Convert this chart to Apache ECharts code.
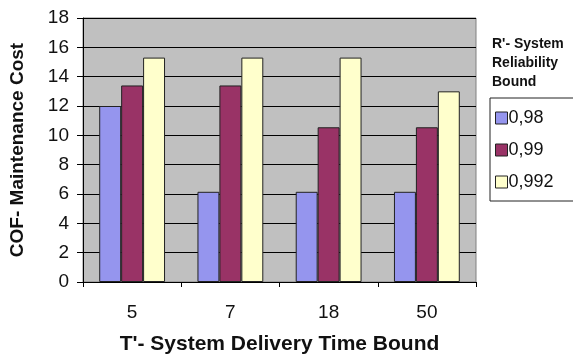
<!DOCTYPE html>
<html>
<head>
<meta charset="utf-8">
<script src="https://cdn.jsdelivr.net/npm/echarts@6/dist/echarts.min.js"></script>
<style>
  html, body { margin: 0; padding: 0; background: #fff; }
  #chart { width: 573px; height: 355px; }
</style>
</head>
<body>
<div id="chart"></div>
<script>
const categories = ['5', '7', '18', '50']
const seriesNames = ['0,98', '0,99', '0,992']
const r098 = [12.0, 6.15, 6.15, 6.15]
const r099 = [13.4, 13.4, 10.55, 10.55]
const r0992 = [15.3, 15.3, 15.3, 13.0]
const colors = ['#9595EE', '#993366', '#FFFFCC']

const chart = echarts.init(document.getElementById('chart'))
const font = 'Liberation Sans, Arial, sans-serif'

const option = {
  animation: false,
  title: {
    text: "R'- System\nReliability\nBound",
    left: 492,
    top: 35,
    padding: 0,
    textStyle: {
      fontFamily: font,
      fontSize: 14,
      fontWeight: 'bold',
      lineHeight: 19,
      color: '#111'
    }
  },
  legend: {
    orient: 'vertical',
    left: 490,
    top: 98,
    width: 120,
    padding: [11, 40, 10, 5],
    itemGap: 14,
    itemWidth: 12,
    itemHeight: 12,
    icon: 'rect',
    borderColor: '#222',
    borderWidth: 1,
    itemStyle: { borderColor: '#222', borderWidth: 1 },
    textStyle: {
      fontFamily: font,
      fontSize: 18,
      color: '#111',
      padding: [0, 0, 0, -4]
    },
    data: seriesNames
  },
  grid: {
    left: 83,
    right: 97,
    top: 18,
    bottom: 73,
    containLabel: false,
    outerBoundsMode: 'none',
    show: true,
    backgroundColor: '#C0C0C0',
    borderColor: '#808080',
    borderWidth: 1
  },
  xAxis: {
    type: 'category',
    data: categories,
    name: "T'- System Delivery Time Bound",
    nameLocation: 'middle',
    nameGap: 52,
    nameTextStyle: {
      fontFamily: font,
      fontSize: 21,
      fontWeight: 'bold',
      color: '#111'
    },
    axisLine: { lineStyle: { color: '#000', width: 1 } },
    axisTick: { show: true, length: 5, lineStyle: { color: '#000' } },
    axisLabel: {
      fontFamily: font,
      fontSize: 19,
      color: '#111',
      margin: 21
    }
  },
  yAxis: {
    type: 'value',
    min: 0,
    max: 18,
    interval: 2,
    name: 'COF- Maintenance Cost',
    nameLocation: 'middle',
    nameGap: 56,
    nameTextStyle: {
      fontFamily: font,
      fontSize: 19,
      fontWeight: 'bold',
      color: '#111'
    },
    axisLine: { show: true, lineStyle: { color: '#000' } },
    axisTick: { show: true, length: 6, lineStyle: { color: '#000' } },
    axisLabel: {
      fontFamily: font,
      fontSize: 19,
      color: '#111',
      margin: 14
    },
    splitLine: { show: true, lineStyle: { color: '#000', width: 1 } }
  },
  series: [r098, r099, r0992].map((data, i) => {
    return {
      name: seriesNames[i],
      type: 'bar',
      data: data,
      barGap: '0%',
      barCategoryGap: '33%',
      itemStyle: {
        color: colors[i],
        borderColor: '#222',
        borderWidth: 1
      }
    }
  })
}
chart.setOption(option)
</script>
</body>
</html>
